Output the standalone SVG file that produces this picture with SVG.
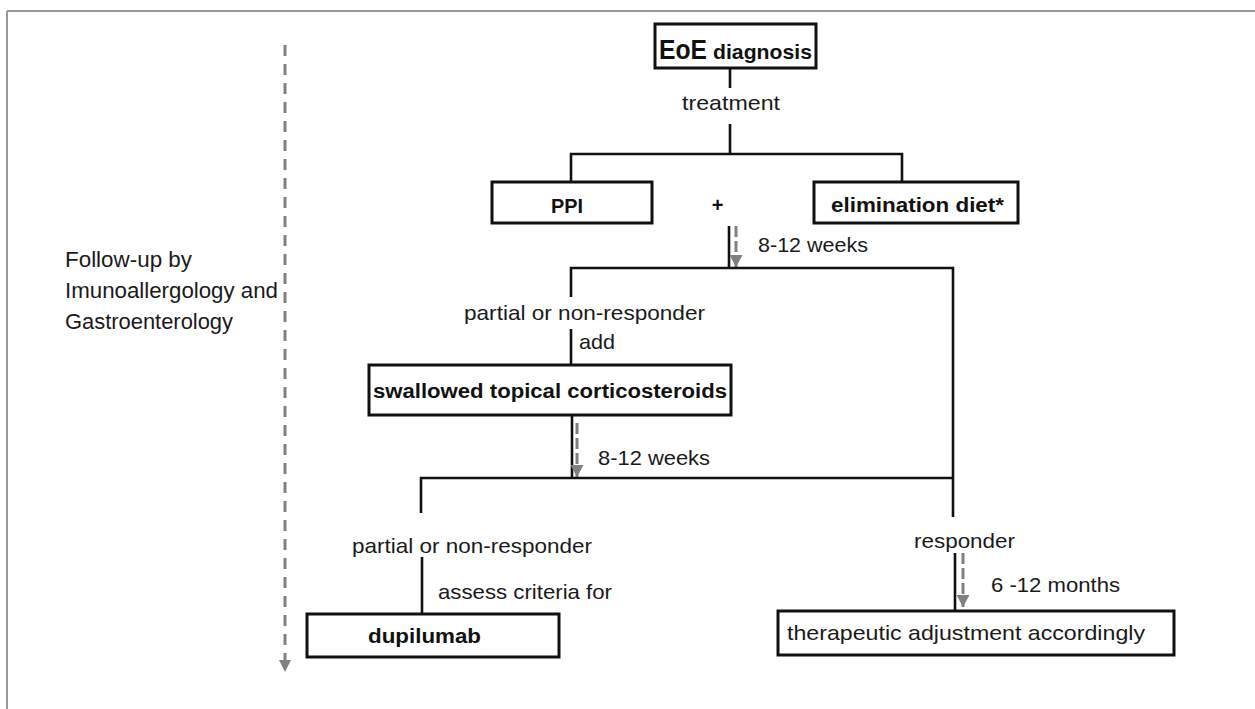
<svg xmlns="http://www.w3.org/2000/svg" width="1255" height="709" viewBox="0 0 1255 709">
<defs>
<style>
.frame{stroke:#9a9a9a;stroke-width:2;fill:none}
.box{fill:#fff;stroke:#111;stroke-width:3}
.ln{stroke:#111;stroke-width:2.6;fill:none}
.dash{stroke:#808080;stroke-width:3;fill:none;stroke-dasharray:11 4}
.bigdash{stroke:#808080;stroke-width:3;fill:none;stroke-dasharray:11 8}
.t{font-family:"Liberation Sans",Arial,sans-serif;font-size:21px;fill:#1a1a1a}
.b{font-family:"Liberation Sans",Arial,sans-serif;font-size:20px;font-weight:bold;fill:#111}
.c{text-anchor:middle}
</style>
<marker id="ah" markerUnits="userSpaceOnUse" markerWidth="12" markerHeight="13" refX="12" refY="6.5" orient="auto" viewBox="0 0 12 13">
<path d="M0,0 L12,6.5 L0,13 Z" fill="#808080"/>
</marker>
</defs>
<rect width="1255" height="709" fill="#fff"/>
<g id="frame">
<line class="frame" x1="7" y1="11" x2="1255" y2="11"/>
<line class="frame" x1="7" y1="11" x2="7" y2="709"/>
</g>
<g id="followup">
<line class="bigdash" x1="285" y1="45" x2="285" y2="660"/>
<path d="M279,660 L291,660 L285,672 Z" fill="#808080"/>
<text class="t" x="65" y="267" style="font-size:22.5px" textLength="127" lengthAdjust="spacingAndGlyphs">Follow-up by</text>
<text class="t" x="65" y="298" style="font-size:22.5px" textLength="213" lengthAdjust="spacingAndGlyphs">Imunoallergology and</text>
<text class="t" x="65" y="329" style="font-size:22.5px" textLength="168" lengthAdjust="spacingAndGlyphs">Gastroenterology</text>
</g>
<g id="connectors">
<line class="ln" x1="730" y1="68" x2="730" y2="88"/>
<line class="ln" x1="730" y1="124" x2="730" y2="154"/>
<polyline class="ln" points="571,182 571,154 902,154 902,182"/>
<line class="ln" x1="729" y1="226" x2="729" y2="268"/>
<line class="dash" x1="736" y1="226" x2="736" y2="267" marker-end="url(#ah)"/>
<polyline class="ln" points="571,297 571,268 953,268 953,517"/>
<line class="ln" x1="571" y1="329" x2="571" y2="365"/>
<line class="ln" x1="572" y1="415" x2="572" y2="478"/>
<line class="dash" x1="577" y1="423" x2="577" y2="477" marker-end="url(#ah)"/>
<polyline class="ln" points="421,513 421,478 953,478"/>
<line class="ln" x1="422" y1="557" x2="422" y2="614"/>
<line class="ln" x1="955" y1="553" x2="955" y2="611"/>
<line class="dash" x1="963" y1="553" x2="963" y2="607" marker-end="url(#ah)"/>
</g>
<g id="labels">
<text class="t c" x="731" y="110" textLength="98" lengthAdjust="spacingAndGlyphs">treatment</text>
<text class="b c" x="717.5" y="212">+</text>
<text class="t" x="758" y="252" textLength="110" lengthAdjust="spacingAndGlyphs">8-12 weeks</text>
<text class="t" x="464" y="320" textLength="241" lengthAdjust="spacingAndGlyphs">partial or non-responder</text>
<text class="t" x="579" y="349" textLength="36" lengthAdjust="spacingAndGlyphs">add</text>
<text class="t" x="598" y="465" textLength="112" lengthAdjust="spacingAndGlyphs">8-12 weeks</text>
<text class="t" x="352" y="553" textLength="240" lengthAdjust="spacingAndGlyphs">partial or non-responder</text>
<text class="t" x="438" y="599" textLength="174" lengthAdjust="spacingAndGlyphs">assess criteria for</text>
<text class="t" x="914" y="548" textLength="101" lengthAdjust="spacingAndGlyphs">responder</text>
<text class="t" x="991" y="592" textLength="129" lengthAdjust="spacingAndGlyphs">6 -12 months</text>
</g>
<g id="eoe">
<rect class="box" x="655" y="24" width="161" height="44"/>
<text class="b" x="659" y="59" style="font-size:28px" textLength="48" lengthAdjust="spacingAndGlyphs">EoE</text>
<text class="b" x="713" y="59" style="font-size:21px" textLength="99" lengthAdjust="spacingAndGlyphs">diagnosis</text>
</g>
<g id="ppi">
<rect class="box" x="492" y="182" width="160" height="41"/>
<text class="b c" x="567" y="213" textLength="32" lengthAdjust="spacingAndGlyphs">PPI</text>
</g>
<g id="diet">
<rect class="box" x="814" y="182" width="204" height="41"/>
<text class="b" x="831" y="212" textLength="173" lengthAdjust="spacingAndGlyphs">elimination diet*</text>
</g>
<g id="stc">
<rect class="box" x="369" y="365" width="362" height="50"/>
<text class="b" x="373" y="398" textLength="354" lengthAdjust="spacingAndGlyphs">swallowed topical corticosteroids</text>
</g>
<g id="dupilumab">
<rect class="box" x="307" y="614" width="252" height="43"/>
<text class="b" x="368" y="643" textLength="113" lengthAdjust="spacingAndGlyphs">dupilumab</text>
</g>
<g id="adjust">
<rect class="box" x="778" y="611" width="396" height="44"/>
<text class="t" x="787" y="640" textLength="358" lengthAdjust="spacingAndGlyphs">therapeutic adjustment accordingly</text>
</g>
</svg>
